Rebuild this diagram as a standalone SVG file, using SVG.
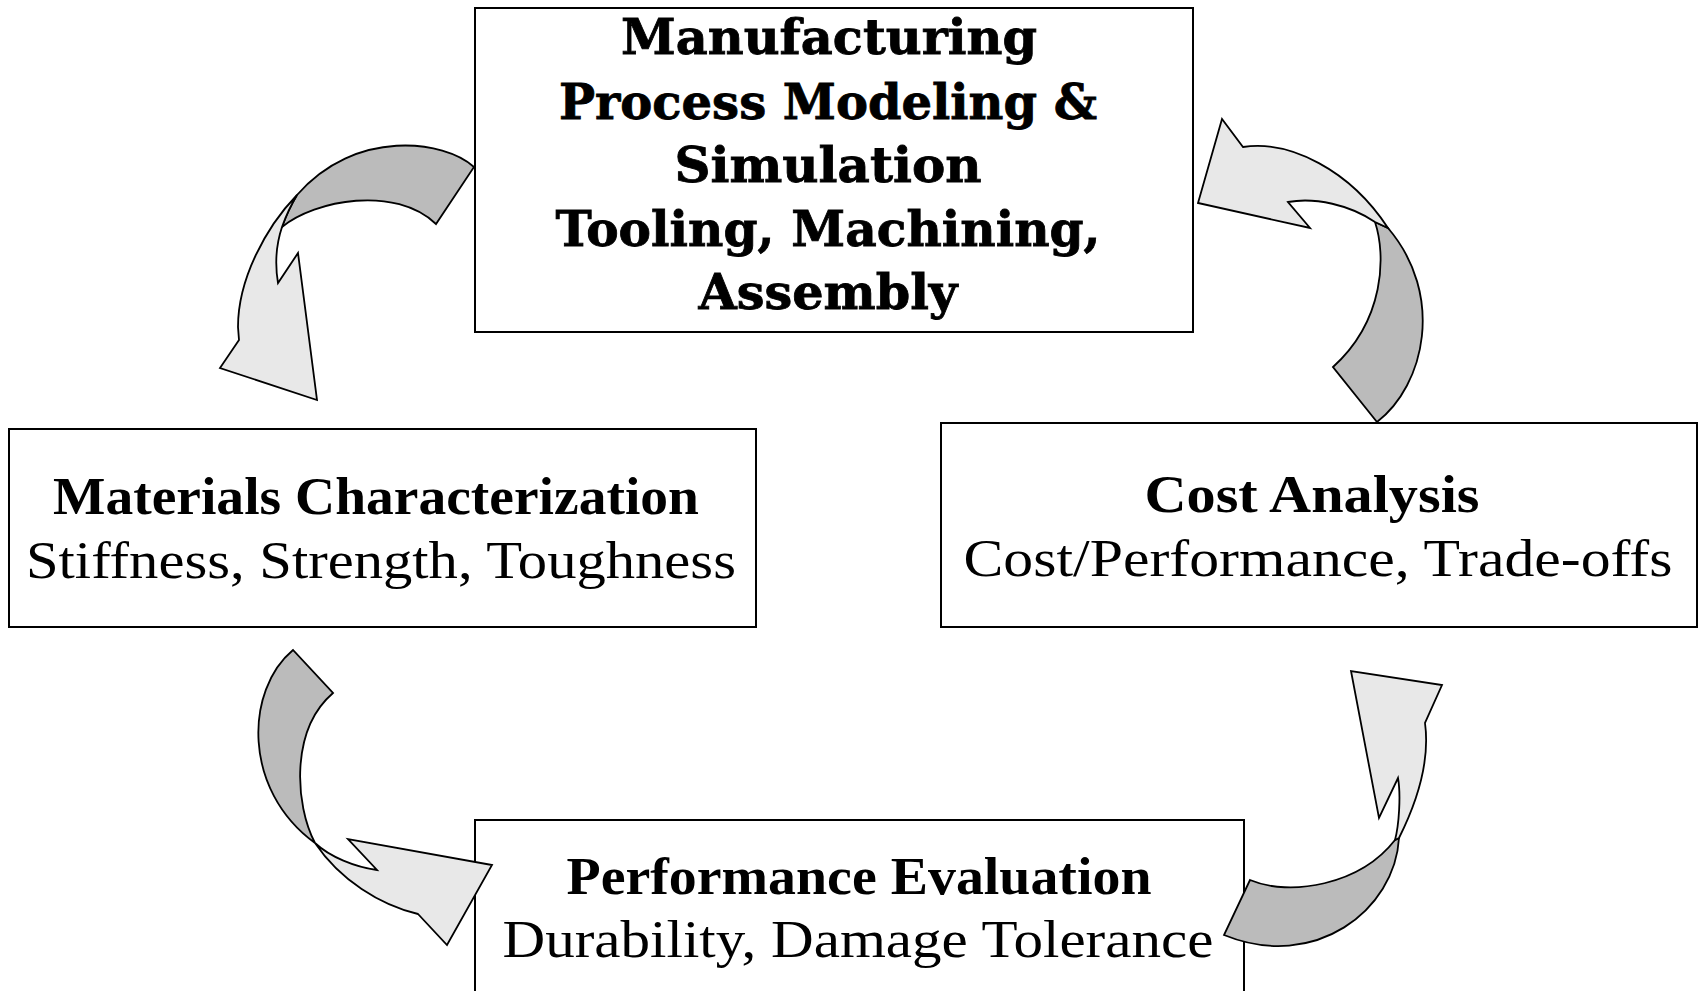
<svg xmlns="http://www.w3.org/2000/svg" width="1702" height="991" viewBox="0 0 1702 991">
  <style>
    .box { fill: #ffffff; stroke: #000000; stroke-width: 2; }
    .heavy { font-family: "DejaVu Serif", "Liberation Serif", serif; font-weight: bold; font-size: 48px; fill: #000; stroke: #000; stroke-width: 0.8; text-anchor: middle; }
    .title { font-family: "Liberation Serif", "DejaVu Serif", serif; font-weight: bold; font-size: 52px; fill: #000; text-anchor: middle; }
    .sub { font-family: "Liberation Serif", "DejaVu Serif", serif; font-size: 52px; fill: #000; text-anchor: middle; }
    .band { fill: #bbbbbb; stroke: #000000; stroke-width: 1.8; stroke-linejoin: miter; }
    .head { fill: #e8e8e8; stroke: #000000; stroke-width: 1.8; stroke-linejoin: miter; }
  </style>
  <rect x="0" y="0" width="1702" height="991" fill="#ffffff"/>

  <!-- process stages -->
  <g id="manufacturing">
    <rect class="box" x="475" y="8" width="718" height="324"/>
    <text class="heavy" x="829" y="54" textLength="416" lengthAdjust="spacingAndGlyphs">Manufacturing</text>
    <text class="heavy" x="828" y="119" textLength="538" lengthAdjust="spacingAndGlyphs">Process Modeling &amp;</text>
    <text class="heavy" x="828" y="182" textLength="307" lengthAdjust="spacingAndGlyphs">Simulation</text>
    <text class="heavy" x="828" y="246" textLength="545" lengthAdjust="spacingAndGlyphs">Tooling, Machining,</text>
    <text class="heavy" x="828" y="309" textLength="259" lengthAdjust="spacingAndGlyphs">Assembly</text>
  </g>

  <g id="materials">
    <rect class="box" x="9" y="429" width="747" height="198"/>
    <text class="title" x="376" y="514" textLength="646" lengthAdjust="spacingAndGlyphs">Materials Characterization</text>
    <text class="sub" x="381" y="578" textLength="710" lengthAdjust="spacingAndGlyphs">Stiffness, Strength, Toughness</text>
  </g>

  <g id="cost">
    <rect class="box" x="941" y="423" width="756" height="204"/>
    <text class="title" x="1312" y="512" textLength="335" lengthAdjust="spacingAndGlyphs">Cost Analysis</text>
    <text class="sub" x="1318" y="576" textLength="709" lengthAdjust="spacingAndGlyphs">Cost/Performance, Trade-offs</text>
  </g>

  <g id="performance">
    <rect class="box" x="475" y="820" width="769" height="200"/>
    <text class="title" x="859" y="894" textLength="585" lengthAdjust="spacingAndGlyphs">Performance Evaluation</text>
    <text class="sub" x="858" y="957" textLength="711" lengthAdjust="spacingAndGlyphs">Durability, Damage Tolerance</text>
  </g>

  <!-- curved block arrows between stages -->
  <g id="connectors">
    <!-- manufacturing -> materials -->
    <g id="arrow-mfg-materials">
      <path class="band" d="M474,167 C445,140 355,128 297,195 Q288,210 282,227 C315,200 395,185 436,224 Z"/>
      <path class="head" d="M297,195 C265,228 238,280 238,327 L239,340 L220,368 L317,400 L298,253 L278,283 C275,265 276,245 282,227 Q288,210 297,195 Z"/>
    </g>
    <!-- cost -> manufacturing -->
    <g id="arrow-cost-mfg">
      <path class="band" d="M1375,222 C1386,255 1385,320 1333,367 L1377,422 C1425,385 1445,295 1388,228 Z"/>
      <path class="head" d="M1243,147 C1290,140 1350,170 1388,228 L1375,222 C1350,205 1315,197 1288,202 L1310,228 L1198,203 L1222,119 Z"/>
    </g>
    <!-- materials -> performance -->
    <g id="arrow-materials-perf">
      <path class="band" d="M293,650 C245,690 242,790 315,843 C295,805 290,730 333,693 Z"/>
      <path class="head" d="M315,843 C330,857 355,867 377,870 L348,839 L492,865 L447,945 L418,914 C380,905 340,880 315,843 Z"/>
    </g>
    <!-- performance -> cost -->
    <g id="arrow-perf-cost">
      <path class="band" d="M1250,880 C1290,897 1360,885 1395,840 L1399,838 C1395,910 1315,972 1224,935 Z"/>
      <path class="head" d="M1399,838 C1418,800 1430,760 1425,723 L1442,685 L1351,671 L1379,818 L1398,778 C1401,795 1399,825 1395,840 Z"/>
    </g>
  </g>
</svg>
